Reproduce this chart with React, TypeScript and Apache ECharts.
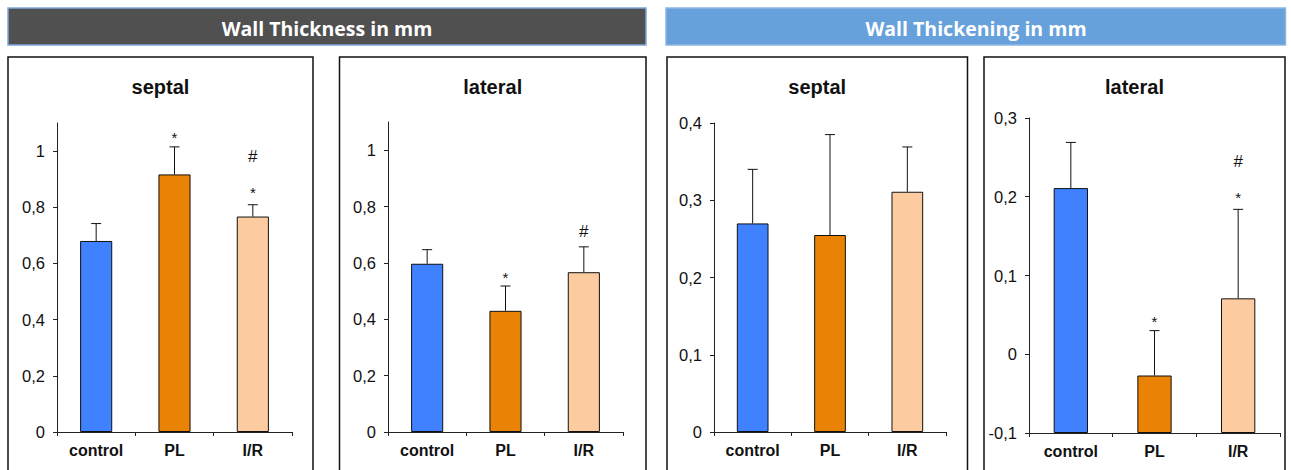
import React, { useEffect, useRef } from 'react';
import * as echarts from 'echarts';

const categories = ['control', 'PL', 'I/R'];

const thicknessSeptal = [0.68, 0.917, 0.767];
const thicknessSeptalErr = [0.062, 0.098, 0.042];
const thicknessSeptalMarks = ['', '*', '*#'];

const thicknessLateral = [0.597, 0.43, 0.567];
const thicknessLateralErr = [0.05, 0.088, 0.09];
const thicknessLateralMarks = ['', '*', '#'];

const thickeningSeptal = [0.27, 0.255, 0.311];
const thickeningSeptalErr = [0.07, 0.13, 0.058];
const thickeningSeptalMarks = ['', '', ''];

const thickeningLateral = [0.211, -0.027, 0.071];
const thickeningLateralErr = [0.058, 0.057, 0.113];
const thickeningLateralMarks = ['', '*', '*#'];

const thicknessTicks = [0, 0.2, 0.4, 0.6, 0.8, 1];
const thickeningSeptalTicks = [0, 0.1, 0.2, 0.3, 0.4];
const thickeningLateralTicks = [-0.1, 0, 0.1, 0.2, 0.3];

const barColors = ['#3F81FF', '#E98205', '#FCCBA0'];
const groupTitles = ['Wall Thickness in mm', 'Wall Thickening in mm'];
const panelTitles = ['septal', 'lateral', 'septal', 'lateral'];

const FONT = '"Liberation Sans", Arial, sans-serif';
const INK = '#111';

const panels = [
  { values: thicknessSeptal, errs: thicknessSeptalErr, marks: thicknessSeptalMarks, ticks: thicknessTicks, min: 0, max: 1.1,
    grid: { left: 57, top: 123, width: 235, height: 309 }, box: [8, 313] },
  { values: thicknessLateral, errs: thicknessLateralErr, marks: thicknessLateralMarks, ticks: thicknessTicks, min: 0, max: 1.1,
    grid: { left: 388, top: 122, width: 235, height: 310 }, box: [339.5, 646] },
  { values: thickeningSeptal, errs: thickeningSeptalErr, marks: thickeningSeptalMarks, ticks: thickeningSeptalTicks, min: 0, max: 0.4,
    grid: { left: 714, top: 123, width: 232, height: 309 }, box: [667, 967.5] },
  { values: thickeningLateral, errs: thickeningLateralErr, marks: thickeningLateralMarks, ticks: thickeningLateralTicks, min: -0.1, max: 0.3,
    grid: { left: 1029, top: 118, width: 251, height: 315 }, box: [984, 1285] },
];

const fmt = (v: number) => String(v).replace('.', ',');

export default function App() {
  const ref = useRef<HTMLDivElement>(null);

  useEffect(() => {
    if (!ref.current) return;
    const chart = echarts.init(ref.current, undefined, { renderer: 'svg' });

    const grid = panels.map((p) => ({ ...p.grid, containLabel: false }));
    const xAxis = panels.map((p, i) => ({
      type: 'category',
      gridIndex: i,
      data: categories,
      axisLine: { show: true, onZero: false, lineStyle: { color: '#222', width: 1 } },
      axisTick: { show: true, length: 4, lineStyle: { color: '#222' } },
      axisLabel: { color: INK, fontFamily: FONT, fontWeight: 'bold', fontSize: 16, margin: 10 },
      splitLine: { show: false },
    }));
    const yAxis = panels.map((p, i) => ({
      type: 'value',
      gridIndex: i,
      min: p.min,
      max: p.max,
      axisLine: { show: true, lineStyle: { color: '#222', width: 1 } },
      axisTick: { show: true, length: 4, lineStyle: { color: '#222' }, customValues: p.ticks },
      axisLabel: { customValues: p.ticks, formatter: (v: number) => fmt(v), color: INK, fontFamily: FONT, fontSize: 16.5, margin: 12 },
      splitLine: { show: false },
    }));

    const series: any[] = [];
    panels.forEach((p, i) => {
      series.push({
        type: 'bar',
        xAxisIndex: i,
        yAxisIndex: i,
        stack: 's' + i,
        stackStrategy: 'all',
        barWidth: '41%',
        silent: true,
        data: p.values.map(() => p.min),
        itemStyle: { color: 'rgba(0,0,0,0)', borderWidth: 0 },
      });
      series.push({
        type: 'bar',
        xAxisIndex: i,
        yAxisIndex: i,
        stack: 's' + i,
        stackStrategy: 'all',
        barWidth: '41%',
        data: p.values.map((v, j) => ({ value: v - p.min, itemStyle: { color: barColors[j] } })),
        itemStyle: { borderColor: INK, borderWidth: 1 },
      });
      series.push({
        type: 'custom',
        xAxisIndex: i,
        yAxisIndex: i,
        z: 5,
        data: p.values.map((v, j) => [j, v, p.errs[j]]),
        renderItem: (params: any, api: any) => {
          const j = api.value(0);
          const v = api.value(1);
          const e = api.value(2);
          const b = api.coord([j, v]);
          const t = api.coord([j, v + e]);
          const children: any[] = [
            { type: 'line', shape: { x1: b[0], y1: b[1], x2: t[0], y2: t[1] }, style: { stroke: INK, lineWidth: 1 } },
            { type: 'line', shape: { x1: t[0] - 5, y1: t[1], x2: t[0] + 5, y2: t[1] }, style: { stroke: INK, lineWidth: 1 } },
          ];
          const m: string = p.marks[params.dataIndex] || '';
          const hasStar = m.indexOf('*') >= 0;
          const hasHash = m.indexOf('#') >= 0;
          const starGap = hasHash ? 15 : 12;
          if (hasStar) {
            children.push({ type: 'text', style: { text: '*', x: t[0], y: t[1] - starGap + 3, align: 'center', verticalAlign: 'middle', font: '15px ' + FONT, fill: INK } });
          }
          if (hasHash) {
            const hy = hasStar ? t[1] - starGap - 33 : t[1] - 15;
            children.push({ type: 'text', style: { text: '#', x: t[0], y: hy, align: 'center', verticalAlign: 'middle', font: '17px ' + FONT, fill: INK } });
          }
          return { type: 'group', children };
        },
      });
    });

    const graphic: any[] = [
      { type: 'rect', shape: { x: 8, y: 8, width: 638, height: 37 }, style: { fill: '#505050', stroke: '#7FA7D9', lineWidth: 1.5 } },
      { type: 'rect', shape: { x: 666, y: 8, width: 619.5, height: 37 }, style: { fill: '#66A1DC', stroke: '#8DB5E2', lineWidth: 1.5 } },
      { type: 'text', style: { text: groupTitles[0], x: 327, y: 28, align: 'center', verticalAlign: 'middle', font: 'bold 19.5px "Open Sans", sans-serif', fill: '#fff' } },
      { type: 'text', style: { text: groupTitles[1], x: 976, y: 28, align: 'center', verticalAlign: 'middle', font: 'bold 19.5px "Open Sans", sans-serif', fill: '#fff' } },
    ];
    panels.forEach((p, i) => {
      graphic.push({ type: 'rect', z: -1, shape: { x: p.box[0], y: 57, width: p.box[1] - p.box[0], height: 430 }, style: { fill: 'none', stroke: '#111', lineWidth: 1.5 } });
      graphic.push({ type: 'text', style: { text: panelTitles[i], x: (p.box[0] + p.box[1]) / 2, y: 87, align: 'center', verticalAlign: 'middle', font: 'bold 20px ' + FONT, fill: INK } });
    });

    chart.setOption({
      animation: false,
      backgroundColor: '#fff',
      grid,
      xAxis,
      yAxis,
      series,
      graphic,
    });

    return () => chart.dispose();
  }, []);

  return <div ref={ref} style={{ position: 'absolute', left: 0, top: 0, width: 1291, height: 470 }} />;
}
